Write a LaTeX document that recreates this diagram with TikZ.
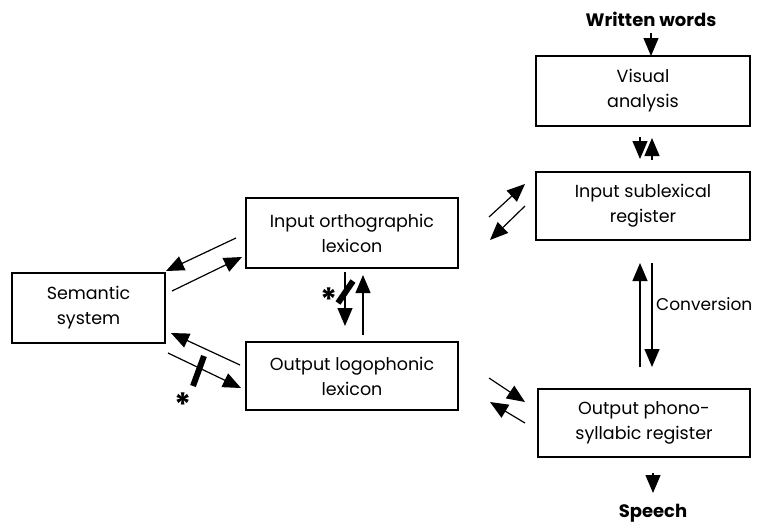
\documentclass[tikz,border=0pt]{standalone}
\usepackage{fontspec}
\setmainfont{Poppins}
\usetikzlibrary{arrows.meta}
\begin{document}
\begin{tikzpicture}[x=1pt,y=-1pt,
  box/.style={draw, line width=1.3pt, inner sep=0pt, align=center,
    font=\fontsize{17.5}{25}\selectfont},
  arr/.style={line width=1.2pt, -{Triangle[length=18pt,width=15pt]}},
  bar/.style={line width=6pt},
  lbl/.style={font=\fontsize{18}{20}\selectfont\bfseries, inner sep=0pt},
  star/.style={font=\fontsize{32}{32}\selectfont\bfseries, inner sep=0pt}]
\useasboundingbox (0,0) rectangle (758,525);
% boxes
\node[box, minimum width=214pt, minimum height=70pt] (visual) at (643,91) {Visual\\analysis};
\node[box, minimum width=214pt, minimum height=68pt] (sublex) at (643,206) {Input sublexical\\register};
\node[box, minimum width=212pt, minimum height=70pt] (ortho) at (352,233) {Input orthographic\\lexicon};
\node[box, minimum width=153pt, minimum height=70pt] (sem) at (88.5,308) {Semantic\\system};
\node[box, minimum width=212pt, minimum height=68pt] (logo) at (352,376) {Output logophonic\\lexicon};
\node[box, minimum width=212pt, minimum height=68pt] (phono) at (644,423) {Output phono-\\syllabic register};
% labels
\node[lbl] (written) at (651,19) {Written words};
\node[lbl] (speech) at (653,513) {Speech};
\node[font=\fontsize{17}{20}\selectfont, anchor=west, inner sep=0pt] (conv) at (656,304) {Conversion};
% coordinates
\coordinate (w1) at (651,33); \coordinate (w2) at (651,56);
\coordinate (v1) at (640,137); \coordinate (v2) at (640,159);
\coordinate (v3) at (652,160); \coordinate (v4) at (652,138);
\coordinate (os1) at (236,238); \coordinate (os2) at (166,271);
\coordinate (so1) at (172,291); \coordinate (so2) at (242,257);
\coordinate (ol1) at (345,272); \coordinate (ol2) at (345,326);
\coordinate (lo1) at (363,335); \coordinate (lo2) at (363,275);
\coordinate (ls1) at (240,365); \coordinate (ls2) at (171,333);
\coordinate (sl1) at (168,353); \coordinate (sl2) at (241,388);
\coordinate (ou1) at (489,217); \coordinate (ou2) at (525,184);
\coordinate (uo1) at (525,206); \coordinate (uo2) at (490,240);
\coordinate (lp1) at (489,378); \coordinate (lp2) at (525,402);
\coordinate (pl1) at (525,423); \coordinate (pl2) at (490,402);
\coordinate (c1) at (640,367); \coordinate (c2) at (640,263);
\coordinate (c3) at (652,263); \coordinate (c4) at (652,367);
\coordinate (s1) at (653,473); \coordinate (s2) at (653,493);
% arrows
\draw[arr] (w1) -- (w2);
\draw[arr] (v1) -- (v2);
\draw[arr] (v3) -- (v4);
\draw[arr] (os1) -- (os2);
\draw[arr] (so1) -- (so2);
\draw[arr] (ol1) -- (ol2);
\draw[arr] (lo1) -- (lo2);
\draw[arr] (ls1) -- (ls2);
\draw[arr] (sl1) -- (sl2);
\draw[arr] (ou1) -- (ou2);
\draw[arr] (uo1) -- (uo2);
\draw[arr] (lp1) -- (lp2);
\draw[arr] (pl1) -- (pl2);
\draw[arr] (c1) -- (c2);
\draw[arr] (c3) -- (c4);
\draw[arr] (s1) -- (s2);
% blocks
\coordinate (b1) at (338,303); \coordinate (b2) at (353,281);
\draw[bar] (b1) -- (b2);
\coordinate (b3) at (193,386); \coordinate (b4) at (204,356);
\draw[bar] (b3) -- (b4);
\node[star] (st1) at (329,300) {*};
\node[star] (st2) at (183,405) {*};
\end{tikzpicture}
\end{document}
